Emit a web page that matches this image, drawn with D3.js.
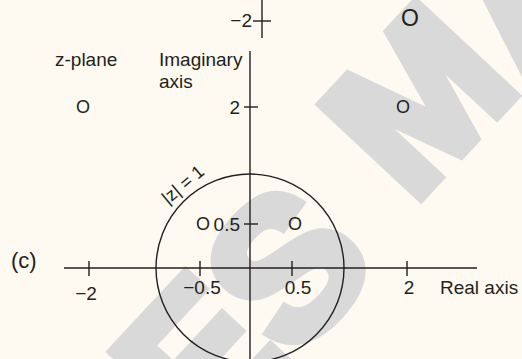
<!DOCTYPE html>
<html>
<head>
<meta charset="utf-8">
<script src="https://cdn.jsdelivr.net/npm/d3@7"></script>
<style>
  html, body { margin: 0; padding: 0; background: #fef9f1; }
  svg { display: block; }
  text { font-family: "Liberation Sans", Arial, Helvetica, sans-serif; fill: #231f20; }
</style>
</head>
<body>
<svg id="chart" width="522" height="359"></svg>
<script>
// Real-axis tick values and labels
const realTicks = [-2, -0.5, 0.5, 2];
const realLabels = ["\u22122", "\u22120.5", "0.5", "2"];
// Imaginary-axis tick values and labels (main axis)
const imagTicks = [0.5, 2];
const imagLabels = ["0.5", "2"];
// Detached upper tick on the imaginary axis
const upperTicks = [-2];
const upperLabels = ["\u22122"];
// Zero locations in the z-plane (real, imaginary)
const zeroRe = [-2, 2, 2, -0.5, 0.5];
const zeroIm = [2, -2, 2, 0.5, 0.5];
// Unit-circle radius
const unitRadius = 1;

const svg = d3.select("#chart");
const W = 522, H = 359;

// Background watermark letters (centre positions)
const wmLetters = [
  { ch: "E", cx: 196, cy: 357 },
  { ch: "S", cx: 285, cy: 265 },
  { ch: "M", cx: 416, cy: 98 },
  { ch: "A", cx: 524, cy: -15 }
];
svg.append("g").selectAll("text")
  .data(wmLetters)
  .join("text")
  .attr("transform", d => `translate(${d.cx},${d.cy}) rotate(-47)`)
  .attr("text-anchor", "middle")
  .attr("dy", "0.36em")
  .style("font-size", "195px")
  .style("font-weight", "bold")
  .style("fill", "#d9d9d9")
  .style("stroke", "#d9d9d9")
  .style("stroke-width", 12)
  .style("stroke-linejoin", "miter")
  .text(d => d.ch);

// Schematic (piecewise) scales
const x = d3.scaleLinear()
  .domain([-2, -1, -0.5, 0, 0.5, 1, 2])
  .range([89, 156, 200, 250, 292, 344, 407]);
const y = d3.scaleLinear()
  .domain([0, 0.5, 1, 2])
  .range([268, 224, 174, 107]);
const yUpper = d3.scaleLinear()
  .domain([-1.6, -2.4])
  .range([38, 4]);

const ink = "#231f20";
const sw = 1.4;

// Real axis
svg.append("line")
  .attr("x1", 64).attr("x2", 477)
  .attr("y1", y(0)).attr("y2", y(0))
  .attr("stroke", ink).attr("stroke-width", sw);
// Imaginary axis
svg.append("line")
  .attr("x1", x(0)).attr("x2", x(0))
  .attr("y1", 51).attr("y2", H)
  .attr("stroke", ink).attr("stroke-width", sw);

// Unit circle |z| = 1
svg.append("circle")
  .attr("cx", x(0)).attr("cy", y(0))
  .attr("r", x(unitRadius) - x(0))
  .attr("fill", "none")
  .attr("stroke", ink).attr("stroke-width", sw);

// Real-axis ticks
const rt = svg.append("g");
realTicks.forEach((v, i) => {
  rt.append("line")
    .attr("x1", x(v)).attr("x2", x(v))
    .attr("y1", y(0) - 7).attr("y2", y(0) + 8)
    .attr("stroke", ink).attr("stroke-width", sw);
  rt.append("text")
    .attr("x", x(v) + (v === 0.5 ? 6 : (v === -2 ? -3 : 2)))
    .attr("y", y(0) + (v === -2 ? 32 : 26))
    .attr("text-anchor", "middle")
    .style("font-size", "19px")
    .text(realLabels[i]);
});

// Imaginary-axis ticks
imagTicks.forEach((v, i) => {
  svg.append("line")
    .attr("x1", x(0) - 6).attr("x2", x(0) + 8)
    .attr("y1", y(v)).attr("y2", y(v))
    .attr("stroke", ink).attr("stroke-width", sw);
  svg.append("text")
    .attr("x", x(0) - 10)
    .attr("y", y(v) + 7)
    .attr("text-anchor", "end")
    .style("font-size", "19px")
    .text(imagLabels[i]);
});

// Detached upper tick
const ux = x(0) + 12;
svg.append("line")
  .attr("x1", ux).attr("x2", ux)
  .attr("y1", yUpper(-1.6)).attr("y2", 0)
  .attr("stroke", ink).attr("stroke-width", sw);
upperTicks.forEach((v, i) => {
  svg.append("line")
    .attr("x1", ux - 9).attr("x2", ux + 9)
    .attr("y1", yUpper(v)).attr("y2", yUpper(v))
    .attr("stroke", ink).attr("stroke-width", sw);
  svg.append("text")
    .attr("x", ux - 10)
    .attr("y", yUpper(v) + 6)
    .attr("text-anchor", "end")
    .style("font-size", "19px")
    .text(upperLabels[i]);
});

// Zeros, drawn as "O"
zeroRe.forEach((re, i) => {
  const im = zeroIm[i];
  const py = im < 0 ? yUpper(im) - 3 : y(im);
  const big = im < 0;
  svg.append("text")
    .attr("x", x(re) + (re === -2 ? -6 : (re === 2 && im > 0 ? -4 : 3)))
    .attr("y", py)
    .attr("dy", "0.36em")
    .attr("text-anchor", "middle")
    .style("font-size", big ? "23px" : "18px")
    .text("O");
});

// Annotations
svg.append("text").attr("x", 55).attr("y", 66)
  .style("font-size", "19px").text("z-plane");
svg.append("text").attr("x", 159).attr("y", 66)
  .style("font-size", "19px").text("Imaginary");
svg.append("text").attr("x", 159).attr("y", 88)
  .style("font-size", "19px").text("axis");
svg.append("text").attr("x", 440).attr("y", 294)
  .style("font-size", "19px").text("Real axis");
svg.append("text").attr("x", 11).attr("y", 268)
  .style("font-size", "22px").text("(c)");
svg.append("text")
  .attr("transform", "translate(168,205) rotate(-40)")
  .style("font-size", "18px")
  .text("|z| = 1");
</script>
</body>
</html>
